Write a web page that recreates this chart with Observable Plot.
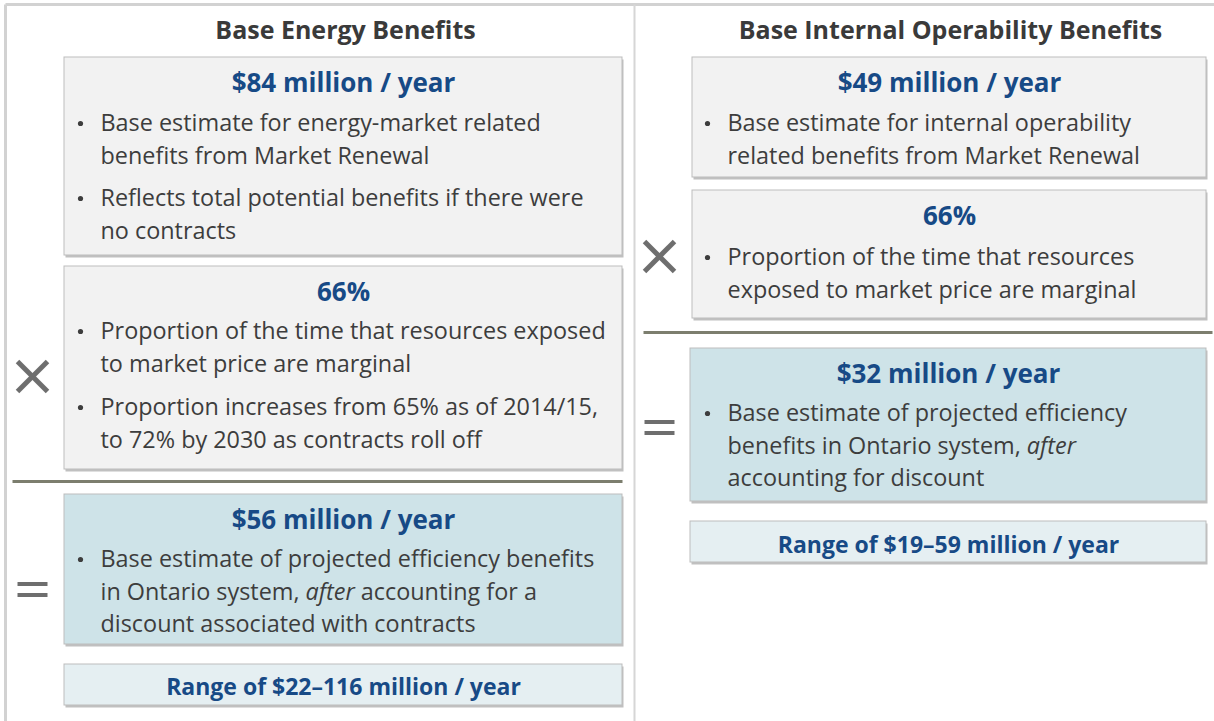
<!DOCTYPE html>
<html>
<head>
<meta charset="utf-8">
<script src="https://cdn.jsdelivr.net/npm/d3@7"></script>
<script src="https://cdn.jsdelivr.net/npm/@observablehq/plot@0.6"></script>
<style>
  html, body { margin: 0; padding: 0; background: #fff; }
  #chart { width: 1214px; height: 721px; }
</style>
</head>
<body>
<div id="chart"></div>
<script>
// ---------- content ----------
const panelTitles = ["Base Energy Benefits", "Base Internal Operability Benefits"];

const energyHeadings = ["$84 million / year", "66%", "$56 million / year"];
const energyBulletLines = [
  ["Base estimate for energy-market related", "benefits from Market Renewal"],
  ["Reflects total potential benefits if there were", "no contracts"],
  ["Proportion of the time that resources exposed", "to market price are marginal"],
  ["Proportion increases from 65% as of 2014/15,", "to 72% by 2030 as contracts roll off"],
  ["Base estimate of projected efficiency benefits", "in Ontario system, *after* accounting for a", "discount associated with contracts"]
];
const energyRange = "Range of $22–116 million / year";

const operHeadings = ["$49 million / year", "66%", "$32 million / year"];
const operBulletLines = [
  ["Base estimate for internal operability", "related benefits from Market Renewal"],
  ["Proportion of the time that resources", "exposed to market price are marginal"],
  ["Base estimate of projected efficiency", "benefits in Ontario system, *after*", "accounting for discount"]
];
const operRange = "Range of $19–59 million / year";

const operators = ["×", "="];

// ---------- layout ----------
const W = 1214, H = 721;
const BOX_GRAY = "#f2f2f2", BOX_BLUE = "#cee3e8", BOX_RANGE = "#e5eff2";
const BORDER = "#bdbdbd", HEAD = "#174a86", BODY = "#3d3d3d", OPC = "#6e6e6e";

const panels = [
  {title: panelTitles[0], cx: 345, ty: 30,
   boxes: [
     {x1: 64, x2: 622, y1: 57, y2: 255, fill: BOX_GRAY, head: energyHeadings[0], hy: 83,
      bullets: [{lines: energyBulletLines[0], y: 123}, {lines: energyBulletLines[1], y: 198}]},
     {x1: 64, x2: 622, y1: 266, y2: 469, fill: BOX_GRAY, head: energyHeadings[1], hy: 292,
      bullets: [{lines: energyBulletLines[2], y: 331}, {lines: energyBulletLines[3], y: 407}]},
     {x1: 64, x2: 622, y1: 494, y2: 644, fill: BOX_BLUE, head: energyHeadings[2], hy: 520,
      bullets: [{lines: energyBulletLines[4], y: 559}]},
     {x1: 64, x2: 622, y1: 664, y2: 705, fill: BOX_RANGE, head: energyRange, hy: 687, range: true, bullets: []}
   ],
   bulletX: 80, textX: 100,
   sep: {x1: 12, x2: 622, y: 481},
   times: {x: 32, y: 376}, equals: {x: 32, y: 589}},
  {title: panelTitles[1], cx: 950, ty: 30,
   boxes: [
     {x1: 692, x2: 1206, y1: 57, y2: 177, fill: BOX_GRAY, head: operHeadings[0], hy: 83,
      bullets: [{lines: operBulletLines[0], y: 123}]},
     {x1: 692, x2: 1206, y1: 190, y2: 318, fill: BOX_GRAY, head: operHeadings[1], hy: 216,
      bullets: [{lines: operBulletLines[1], y: 257}]},
     {x1: 690, x2: 1206, y1: 348, y2: 501, fill: BOX_BLUE, head: operHeadings[2], hy: 374,
      bullets: [{lines: operBulletLines[2], y: 413}]},
     {x1: 690, x2: 1206, y1: 521, y2: 562, fill: BOX_RANGE, head: operRange, hy: 545, range: true, bullets: []}
   ],
   bulletX: 707, textX: 727,
   sep: {x1: 643, x2: 1212, y: 332},
   times: {x: 659, y: 256}, equals: {x: 659, y: 427}}
];

const LINE_H = 32.5;

// flatten into mark tables
const boxes = [], heads = [], bodyLines = [], bulletDots = [], seps = [], strokes = [];
for (const p of panels) {
  for (const b of p.boxes) {
    boxes.push(b);
    heads.push({x: (b.x1 + b.x2) / 2, y: b.hy, text: b.head, range: !!b.range});
    for (const bl of b.bullets) {
      bulletDots.push({x: p.bulletX, y: bl.y});
      bl.lines.forEach((t, i) => bodyLines.push({x: p.textX, y: bl.y + i * LINE_H, text: t}));
    }
  }
  seps.push(p.sep);
  const s = 15;
  strokes.push({x1: p.times.x - s, y1: p.times.y - s, x2: p.times.x + s, y2: p.times.y + s, w: 5});
  strokes.push({x1: p.times.x - s, y1: p.times.y + s, x2: p.times.x + s, y2: p.times.y - s, w: 5});
  strokes.push({x1: p.equals.x - 15, y1: p.equals.y - 5.5, x2: p.equals.x + 15, y2: p.equals.y - 5.5, w: 4});
  strokes.push({x1: p.equals.x - 15, y1: p.equals.y + 5.5, x2: p.equals.x + 15, y2: p.equals.y + 5.5, w: 4});
}
const titles = panels.map(p => ({x: p.cx, y: p.ty, text: p.title}));
const frame = [
  {x1: 5, y1: 4, x2: W, y2: 4, c: "#d2d2d2", w: 3},
  {x1: 5, y1: 4, x2: 5, y2: H, c: "#d2d2d2", w: 3},
  {x1: 634, y1: 4, x2: 634, y2: H, c: "#d6d6d6", w: 2}
];

const FONT = "'Open Sans', Lato, sans-serif";

const chart = Plot.plot({
  width: W, height: H, margin: 0,
  x: {domain: [0, W], range: [0, W], axis: null},
  y: {domain: [0, H], range: [0, H], axis: null},
  style: {fontFamily: FONT, background: "#fff"},
  marks: [
    Plot.link(frame, {x1: "x1", y1: "y1", x2: "x2", y2: "y2", stroke: d => d.c, strokeWidth: d => d.w}),
    // shadows
    Plot.rect(boxes, {x1: "x1", x2: "x2", y1: "y1", y2: "y2", fill: "#8c8c8c", fillOpacity: 0.55, dx: 1.5, dy: 2.5}),
    Plot.rect(boxes, {x1: "x1", x2: "x2", y1: "y1", y2: "y2", fill: d => d.fill, stroke: BORDER, strokeWidth: 1}),
    Plot.link(seps, {x1: "x1", x2: "x2", y1: "y", y2: "y", stroke: "#7c7e6e", strokeWidth: 3}),
    Plot.link(strokes, {x1: "x1", y1: "y1", x2: "x2", y2: "y2", stroke: OPC, strokeWidth: d => d.w}),
    Plot.text(titles, {x: "x", y: "y", text: "text", fontSize: 25, fontWeight: "bold", fill: "#3a3a3a", textAnchor: "middle"}),
    Plot.text(heads, {x: "x", y: "y", text: "text", fontSize: d => d.range ? 23 : 26, fontWeight: "bold", fill: HEAD, textAnchor: "middle"}),
    Plot.dot(bulletDots, {x: "x", y: "y", r: 2.6, fill: "#3d3d3d", stroke: null}),
    Plot.text(bodyLines, {x: "x", y: "y", text: "text", fontSize: 23.4, fill: BODY, textAnchor: "start"})
  ]
});

// italic emphasis for *...* segments
chart.querySelectorAll("text").forEach(t => {
  const s = t.textContent;
  if (!s.includes("*")) return;
  t.textContent = "";
  s.split(/(\*[^*]+\*)/).forEach(part => {
    if (!part) return;
    if (part.startsWith("*")) {
      const ts = document.createElementNS("http://www.w3.org/2000/svg", "tspan");
      ts.setAttribute("font-style", "italic");
      ts.textContent = part.slice(1, -1);
      t.appendChild(ts);
    } else {
      t.appendChild(document.createTextNode(part));
    }
  });
});

document.getElementById("chart").appendChild(chart);
</script>
</body>
</html>
